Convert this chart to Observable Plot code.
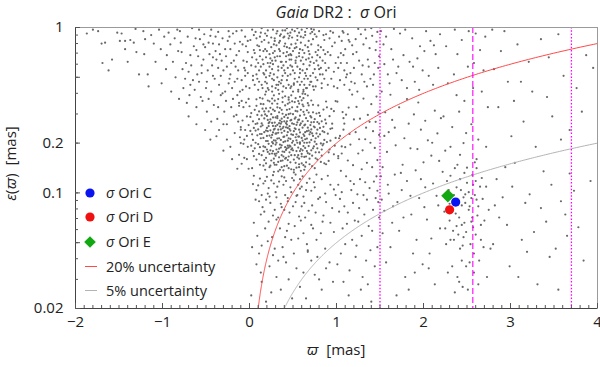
<!DOCTYPE html>
<html><head><meta charset="utf-8">
<script src="https://cdn.jsdelivr.net/npm/d3@7"></script>
<script src="https://cdn.jsdelivr.net/npm/@observablehq/plot@0.6"></script>
<style>
html,body{margin:0;padding:0;background:#fff;}
#chart{width:600px;height:367px;position:relative;}
</style></head><body><div id="chart"></div>
<script>
// ---------- DATA: [parallax ϖ (mas), parallax error ε(ϖ) (mas)] ----------
const starsFarWest = [[-1.87,0.92],[-1.80,0.97],[-1.74,0.95],[-1.70,0.80],[-1.66,0.81],[-1.69,0.61],[-1.62,0.55],[-1.58,0.64],[-1.52,0.93],[-1.47,0.92],[-1.49,0.83],[-1.43,0.83],[-1.43,0.74],[-1.40,0.62],[-1.37,0.84],[-1.33,0.81],[-1.31,0.98],[-1.30,0.71],[-1.27,0.52],[-1.22,0.95],[-1.20,0.85],[-1.21,0.69],[-1.17,0.52],[-1.16,0.44],[-1.13,0.90],[-1.10,0.80],[-1.08,0.62],[-1.04,0.97],[-1.02,0.74],[-1.01,0.46],[-0.98,0.88],[-0.96,0.56],[-0.95,0.68],[-0.93,0.93],[-0.91,0.79],[-0.90,0.41],[-0.88,0.62],[-0.86,0.86],[-0.85,0.50],[-0.83,0.97],[-0.82,0.72],[-0.81,0.37]];
const starsWest = [[-0.42,0.66],[-0.17,0.47],[-0.71,0.88],[-0.29,0.31],[-0.55,0.53],[-0.08,0.79],[-0.36,0.94],[-0.63,0.42],[-0.21,0.61],[-0.47,0.37],
[-0.12,0.35],[-0.78,0.71],[-0.33,0.51],[-0.58,0.97],[-0.04,0.44],[-0.25,0.83],[-0.67,0.59],[-0.44,0.27],[-0.15,0.68],[-0.51,0.76],
[-0.28,0.41],[-0.74,0.49],[-0.06,0.57],[-0.39,0.72],[-0.61,0.33],[-0.19,0.92],[-0.48,0.55],[-0.10,0.25],[-0.32,0.63],[-0.57,0.85],
[-0.23,0.49],[-0.69,0.39],[-0.02,0.71],[-0.45,0.89],[-0.14,0.39],[-0.35,0.45],[-0.80,0.95],[-0.53,0.64],[-0.26,0.58],[-0.09,0.96],
[-0.41,0.34],[-0.64,0.77],[-0.18,0.29],[-0.31,0.86],[-0.73,0.61],[-0.05,0.51],[-0.49,0.47],[-0.22,0.74],[-0.60,0.52],[-0.37,0.28],
[-0.13,0.55],[-0.52,0.91],[-0.27,0.36],[-0.76,0.43],[-0.07,0.33],[-0.43,0.59],[-0.20,0.43],[-0.66,0.99],[-0.34,0.69],[-0.11,0.82],
[-0.56,0.38],[-0.03,0.62],[-0.30,0.26],[-0.47,0.81],[-0.16,0.58],[-0.70,0.54],[-0.24,0.95],[-0.40,0.49],[-0.08,0.42],[-0.59,0.67],
[-0.19,0.37],[-0.36,0.57],[-0.62,0.86],[-0.01,0.37],[-0.28,0.74],[-0.50,0.43],[-0.12,0.72],[-0.77,0.56],[-0.44,0.97],[-0.22,0.52],
[-0.05,0.88],[-0.33,0.39],[-0.58,0.47],[-0.15,0.95],[-0.42,0.51],[-0.68,0.68],[-0.26,0.26],[-0.09,0.48],[-0.53,0.79],[-0.38,0.64],
[-0.21,0.33],[-0.46,0.69],[-0.72,0.35],[-0.03,0.29],[-0.30,0.55],[-0.17,0.80],[-0.55,0.59],[-0.11,0.41],[-0.39,0.88],[-0.65,0.48],
[-0.07,0.63],[-0.24,0.46],[-0.49,0.31],[-0.14,0.49],[-0.35,0.79],[-0.79,0.81],[-0.02,0.53],[-0.27,0.67],[-0.61,0.73],[-0.44,0.41],
[-0.18,0.63],[-0.09,0.36],[-0.31,0.40],[-0.54,0.36],[-0.23,0.88],[-0.04,0.77],[-0.42,0.80],[-0.13,0.27],[-0.68,0.45],[-0.36,0.33],
[-0.06,0.21],[-0.22,0.19],[-0.38,0.22],[-0.12,0.17],[-0.51,0.24],[-0.03,0.16],[-0.17,0.23],[-0.30,0.18],[-0.09,0.15],[-0.45,0.21],
[-0.26,0.21],[-0.02,0.19],[-0.14,0.14],[-0.61,0.26],[-0.05,0.24],[-0.20,0.16],[-0.35,0.24],[-0.10,0.20],[-0.70,0.29],[-0.01,0.14]];
const starsCoreUpper = [[0.37,0.62],[0.12,0.88],[0.71,0.47],[0.48,0.79],[0.24,0.53],[0.93,0.68],[0.56,0.42],[0.05,0.73],[0.64,0.94],[0.31,0.45],
[0.82,0.57],[0.19,0.66],[0.44,0.51],[0.68,0.83],[0.27,0.97],[0.53,0.61],[0.09,0.49],[0.76,0.71],[0.39,0.87],[0.61,0.55],
[0.15,0.43],[0.47,0.69],[0.88,0.91],[0.33,0.58],[0.58,0.74],[0.22,0.81],[0.73,0.44],[0.41,0.96],[0.02,0.59],[0.65,0.64],
[0.29,0.72],[0.51,0.46],[0.79,0.78],[0.17,0.52],[0.45,0.86],[0.62,0.41],[0.35,0.67],[0.97,0.54],[0.26,0.44],[0.70,0.92],
[0.55,0.58],[0.11,0.77],[0.42,0.43],[0.84,0.63],[0.36,0.91],[0.67,0.49],[0.21,0.61],[0.49,0.97],[0.75,0.56],[0.07,0.94],
[0.59,0.81],[0.32,0.50],[0.90,0.45],[0.46,0.64],[0.14,0.99],[0.63,0.70],[0.38,0.41],[0.77,0.88],[0.25,0.76],[0.52,0.53],
[0.04,0.51],[0.69,0.59],[0.43,0.76],[0.86,0.84],[0.18,0.47],[0.57,0.93],[0.34,0.81],[0.72,0.66],[0.48,0.44],[0.23,0.69],
[0.95,0.77],[0.60,0.47],[0.30,0.63],[0.81,0.52],[0.13,0.58],[0.50,0.72],[0.66,0.99],[0.40,0.55],[0.20,0.89],[0.74,0.42],
[0.54,0.66],[0.28,0.48],[0.87,0.69],[0.44,0.92],[0.08,0.64],[0.64,0.53],[0.35,0.83],[0.79,0.59],[0.16,0.72],[0.58,0.45],
[0.99,0.61],[0.26,0.56],[0.47,0.52],[0.71,0.79],[0.39,0.70],[0.10,0.42],[0.62,0.87],[0.31,0.92],[0.83,0.46],[0.53,0.80],
[0.19,0.55],[0.68,0.72],[0.42,0.62],[0.01,0.84],[0.57,0.50],[0.36,0.46],[0.92,0.86],[0.24,0.65],[0.76,0.50],[0.49,0.58],
[0.65,0.43],[0.14,0.82],[0.33,0.42],[0.80,0.95],[0.46,0.75],[0.06,0.45],[0.70,0.62],[0.29,0.86],[0.55,0.89],[0.38,0.51],
[0.85,0.73],[0.21,0.43],[0.61,0.66],[0.43,0.48],[0.74,0.97],[0.27,0.60],[0.50,0.41],[0.12,0.67],[0.66,0.56],[0.34,0.74],
[0.57,0.70],[0.91,0.57],[0.18,0.92],[0.40,0.88],[0.63,0.49],[0.23,0.51],[0.78,0.68],[0.47,0.43],[0.03,0.97],[0.69,0.45],
[0.32,0.67],[0.52,0.95],[0.86,0.49],[0.16,0.60],[0.59,0.63],[0.41,0.80],[0.73,0.53],[0.26,0.41],[0.96,0.93],[0.45,0.68],
[0.11,0.55],[0.64,0.78],[0.37,0.57],[0.82,0.76],[0.28,0.79],[0.55,0.47],[0.08,0.86],[0.72,0.94],[0.48,0.64],[0.20,0.46],
[0.44,0.57],[0.18,0.74],[0.63,0.45],[0.32,0.95],[0.81,0.66],[0.07,0.58],[0.55,0.84],[0.26,0.49],[0.71,0.98],[0.39,0.44],
[0.94,0.49],[0.13,0.93],[0.48,0.68],[0.67,0.76],[0.22,0.42],[0.58,0.56],[0.35,0.72],[0.85,0.90],[0.03,0.66],[0.51,0.45],
[0.29,0.83],[0.76,0.44],[0.43,0.99],[0.16,0.53],[0.62,0.60],[0.88,0.55],[0.37,0.48],[0.09,0.78],[0.54,0.76],[0.24,0.61],
[0.70,0.51],[0.46,0.89],[0.19,0.41],[0.60,0.97],[0.33,0.55],[0.79,0.73],[0.05,0.90],[0.42,0.67],[0.66,0.43],[0.27,0.70],
[1.05,0.70],[1.12,0.52],[1.08,0.93],[0.52,0.49],[0.15,0.64],[0.74,0.61],[0.30,0.43],[0.57,0.67],[0.90,0.71],[0.41,0.53],
[0.21,0.96],[0.64,0.90],[0.36,0.62],[0.83,0.43],[0.11,0.47],[0.47,0.59],[0.69,0.69],[0.25,0.87],[0.56,0.41],[0.98,0.81],
[-0.05,0.55],[-0.02,0.83],[0.00,0.43],[0.34,0.47],[0.61,0.73],[0.17,0.84],[0.49,0.87],[0.78,0.48],[0.40,0.77],[0.06,0.70],
[0.28,0.52],[0.73,0.85],[0.53,0.63],[0.14,0.45],[0.87,0.61],[0.38,0.96],[0.65,0.51],[0.23,0.58],[0.45,0.45],[0.59,0.88],
[0.10,0.61],[0.80,0.56],[0.31,0.78],[0.50,0.55],[0.68,0.65],[0.20,0.72],[0.93,0.95],[0.43,0.71],[0.04,0.48],[0.75,0.91],
[0.58,0.53],[0.35,0.89],[0.12,0.73],[0.70,0.47],[0.47,0.93],[0.26,0.63],[0.84,0.52],[0.62,0.42],[0.19,0.50],[0.39,0.59],
[1.02,0.57],[1.15,0.82],[1.09,0.45],[0.97,0.44],[0.52,0.75],[0.29,0.66],[0.77,0.63],[0.08,0.52],[0.55,0.99],[0.33,0.45]];
const starsCoreMiddle = [[0.43,0.271],[0.17,0.158],[0.62,0.334],[0.35,0.196],[0.81,0.247],[0.28,0.389],[0.54,0.142],[0.09,0.223],[0.71,0.181],[0.47,0.302],
[0.22,0.264],[0.66,0.213],[0.39,0.137],[0.58,0.257],[0.13,0.345],[0.76,0.162],[0.31,0.229],[0.49,0.186],[0.92,0.291],[0.26,0.173],
[0.61,0.398],[0.44,0.233],[0.05,0.167],[0.37,0.318],[0.69,0.149],[0.19,0.206],[0.52,0.281],[0.84,0.194],[0.33,0.154],[0.57,0.219],
[0.24,0.327],[0.74,0.268],[0.46,0.176],[0.11,0.279],[0.63,0.165],[0.29,0.244],[0.88,0.357],[0.41,0.205],[0.55,0.311],[0.16,0.191],
[0.68,0.238],[0.36,0.262],[0.02,0.304],[0.51,0.159],[0.79,0.219],[0.23,0.143],[0.45,0.366],[0.64,0.187],[0.32,0.291],[0.97,0.171],
[0.14,0.227],[0.59,0.136],[0.42,0.249],[0.73,0.307],[0.27,0.199],[0.50,0.224],[0.86,0.151],[0.38,0.178],[0.07,0.261],[0.65,0.283],
[0.21,0.362],[0.48,0.139],[0.77,0.197],[0.34,0.214],[0.56,0.188],[0.12,0.148],[0.67,0.349],[0.40,0.288],[0.25,0.216],[0.83,0.271],
[0.53,0.243],[0.30,0.168],[0.70,0.257],[0.18,0.298],[0.47,0.212],[0.60,0.172],[0.04,0.209],[0.38,0.377],[0.90,0.228],[0.27,0.254],
[0.62,0.147],[0.44,0.193],[0.15,0.372],[0.55,0.267],[0.33,0.241],[0.75,0.141],[0.20,0.183],[0.49,0.329],[0.66,0.236],[0.36,0.156],
[0.10,0.197],[0.58,0.202],[0.29,0.313],[0.80,0.176],[0.42,0.163],[0.24,0.239],[0.69,0.202],[0.52,0.354],[0.37,0.231],[0.95,0.262],
[0.46,0.253],[0.19,0.163],[0.63,0.297],[0.31,0.183],[0.57,0.149],[0.85,0.319],[0.40,0.219],[0.13,0.252],[0.72,0.229],[0.26,0.347],
[0.50,0.181],[0.35,0.274],[0.78,0.159],[0.22,0.198],[0.61,0.248],[0.43,0.146],[0.08,0.336],[0.54,0.226],[0.30,0.207],[0.67,0.174],
[0.17,0.282],[0.45,0.299],[0.89,0.203],[0.28,0.134],[0.59,0.318],[0.39,0.251],[0.71,0.267],[0.23,0.222],[0.48,0.169],[0.64,0.211],
[0.34,0.185],[0.03,0.141],[0.56,0.276],[0.81,0.292],[0.41,0.338],[0.20,0.247],[0.65,0.153],[0.52,0.195],[0.32,0.258],[0.76,0.214],
[0.14,0.169],[0.47,0.238],[0.60,0.363],[0.37,0.143],[0.27,0.286],[0.73,0.186],[0.44,0.207],[0.93,0.244],[0.21,0.177],[0.55,0.164],
[0.68,0.306],[0.30,0.228],[0.49,0.263],[0.11,0.311],[0.62,0.192],[0.38,0.301],[0.83,0.168],[0.25,0.157],[0.57,0.241],[0.42,0.182],
[0.16,0.215],[0.70,0.233],[0.33,0.369],[0.53,0.152],[0.87,0.277],[0.46,0.321],[0.29,0.172],[0.64,0.259],[0.06,0.186],[0.40,0.237],
[0.58,0.293],[0.23,0.268],[0.75,0.249],[0.36,0.209],[0.51,0.138],[0.19,0.324],[0.66,0.179],[0.44,0.284],[0.98,0.193],[0.31,0.148],
[0.54,0.208],[0.27,0.232],[0.79,0.338],[0.41,0.161],[0.63,0.221],[0.12,0.189],[0.48,0.276],[0.35,0.252],[0.72,0.145],[0.22,0.311],
[0.60,0.166],[0.45,0.188],[0.18,0.138],[0.67,0.272],[0.30,0.286],[0.84,0.236],[0.52,0.246],[0.39,0.166],[0.09,0.263],[0.57,0.347],
[0.26,0.203],[0.69,0.161],[0.43,0.223],[0.15,0.256],[0.62,0.226],[0.35,0.138],[0.77,0.302],[0.50,0.299],[0.24,0.181],[0.91,0.156],
[0.47,0.153],[0.32,0.329],[0.59,0.184],[0.13,0.214],[0.71,0.209],[0.40,0.271],[0.28,0.241],[0.55,0.331],[0.82,0.199],[0.37,0.194],
[0.20,0.292],[0.64,0.144],[0.44,0.346],[0.74,0.252],[0.33,0.177],[0.58,0.232],[0.07,0.238],[0.49,0.201],[0.26,0.265],[0.68,0.192],
[0.39,0.218],[0.53,0.286],[0.17,0.233],[0.86,0.209],[0.30,0.196],[0.61,0.271],[0.45,0.166],[0.23,0.358],[0.76,0.176],[0.34,0.307],
[0.56,0.169],[0.11,0.172],[0.42,0.296],[0.66,0.316],[0.28,0.161],[0.51,0.261],[0.94,0.322],[0.36,0.242],[0.19,0.151],[0.63,0.201],
[0.48,0.226],[0.73,0.221],[0.25,0.299],[0.40,0.145],[0.59,0.263],[0.14,0.294],[0.80,0.262],[0.32,0.213],[0.54,0.179],[0.21,0.236],
[0.67,0.248],[0.43,0.259],[0.01,0.237],[0.37,0.281],[0.62,0.309],[0.29,0.148],[0.50,0.206],[0.78,0.186],[0.16,0.344],[0.46,0.193],
[0.34,0.264],[0.57,0.161],[0.22,0.253],[0.70,0.291],[0.41,0.189],[0.88,0.149],[0.27,0.179],[0.60,0.215],[0.45,0.378],[0.12,0.227],
[0.53,0.313],[0.31,0.201],[0.65,0.166],[0.18,0.189],[0.47,0.274],[0.75,0.279],[0.38,0.157],[0.24,0.278],[0.58,0.198],[0.99,0.215],
[0.43,0.186],[0.69,0.226],[0.20,0.221],[0.52,0.169],[0.35,0.326],[0.63,0.256],[0.08,0.159],[0.46,0.243],[0.81,0.226],[0.29,0.266],
[0.56,0.219],[0.39,0.203],[0.14,0.263],[0.72,0.168],[0.26,0.224],[0.49,0.358],[0.61,0.181],[0.33,0.231],[0.85,0.251],[0.44,0.158],
[0.23,0.172],[0.66,0.201],[0.37,0.269],[0.54,0.258],[0.17,0.311],[0.78,0.241],[0.30,0.253],[0.48,0.183],[0.62,0.374],[0.40,0.177],
[0.21,0.206],[0.57,0.277],[0.34,0.164],[0.71,0.242],[0.45,0.214],[0.09,0.296],[0.60,0.151],[0.27,0.319],[0.51,0.236],[0.92,0.183],
[0.38,0.246],[0.64,0.233],[0.16,0.146],[0.47,0.191],[0.75,0.204],[0.32,0.283],[0.55,0.201],[0.25,0.192],[0.68,0.338],[0.42,0.264],
[0.19,0.238],[0.53,0.217],[0.36,0.188],[0.83,0.183],[0.28,0.208],[0.61,0.207],[0.44,0.247],[0.04,0.271],[0.58,0.179],[0.31,0.173],
[0.86,0.233],[0.97,0.312],[0.78,0.268],[1.04,0.221],[0.91,0.176],[0.73,0.341],[0.95,0.246],[0.82,0.154],[1.08,0.283],[0.77,0.229],
[0.89,0.329],[0.74,0.191],[1.02,0.162],[0.93,0.207],[0.80,0.305],[0.99,0.359],[0.85,0.198],[0.71,0.286],[1.06,0.191],[0.88,0.263],
[-0.08,0.274],[0.02,0.193],[-0.12,0.336],[0.05,0.247],[-0.03,0.221],[0.08,0.368],[-0.06,0.163],[0.01,0.288],[-0.10,0.241],[0.04,0.179],
[-0.15,0.296],[0.06,0.318],[-0.04,0.352],[0.03,0.226],[-0.07,0.198],[0.10,0.242],[-0.01,0.257],[0.07,0.201],[-0.11,0.217],[0.00,0.334],
[0.43,0.318],[0.21,0.276],[0.56,0.359],[0.32,0.346],[0.67,0.388],[0.15,0.323],[0.48,0.389],[0.26,0.372],[0.61,0.342],[0.38,0.354],
[0.53,0.374],[0.18,0.393],[0.71,0.362],[0.41,0.384],[0.29,0.361],[0.64,0.396],[0.12,0.376],[0.46,0.352],[0.34,0.397],[0.58,0.381],
[0.24,0.146],[0.51,0.133],[0.37,0.169],[0.63,0.138],[0.16,0.179],[0.45,0.141],[0.69,0.172],[0.28,0.152],[0.57,0.143],[0.33,0.135]];
const starsCoreLower = [[0.34,0.117],[0.08,0.104],[0.61,0.126],[0.19,0.091],[0.47,0.108],[0.83,0.121],[0.27,0.128],[0.55,0.097],[0.12,0.122],[0.71,0.103],
[0.40,0.124],[0.93,0.112],[0.22,0.107],[0.66,0.115],[0.05,0.127],[0.51,0.119],[0.30,0.101],[0.77,0.129],[0.16,0.114],[0.58,0.106],
[0.44,0.093],[0.87,0.099],[0.25,0.119],[0.63,0.087],[0.37,0.126],[0.10,0.111],[0.74,0.116],[0.49,0.123],[0.20,0.125],[0.97,0.105],
[0.56,0.112],[0.32,0.109],[0.69,0.122],[0.14,0.097],[0.42,0.118],[0.81,0.094],[0.28,0.114],[0.60,0.109],[0.04,0.113],[0.53,0.129],
[0.36,0.086],[0.75,0.108],[0.18,0.118],[0.48,0.101],[0.90,0.127],[0.23,0.095],[0.65,0.104],[0.39,0.112],[0.11,0.089],[0.58,0.121],
[0.29,0.079],[0.72,0.084],[0.46,0.076],[0.15,0.082],[0.85,0.073],[0.53,0.088],[0.33,0.071],[0.62,0.095],[0.07,0.091],[0.41,0.097],
[0.95,0.081],[0.24,0.087],[0.68,0.078],[0.50,0.083],[0.13,0.074],[0.79,0.092],[0.37,0.082],[0.57,0.072],[0.21,0.099],[0.44,0.089],
[0.88,0.088],[0.31,0.094],[0.64,0.071],[0.17,0.077],[0.54,0.096],[0.76,0.076],[0.40,0.079],[0.27,0.073],[0.99,0.097],[0.60,0.083],
[0.35,0.061],[0.09,0.055],[0.71,0.064],[0.48,0.052],[0.22,0.067],[0.82,0.057],[0.59,0.068],[0.14,0.048],[0.43,0.059],[0.93,0.066],
[0.26,0.054],[0.66,0.049],[0.52,0.063],[0.18,0.061],[0.77,0.052],[0.38,0.047],[0.05,0.066],[0.62,0.057],[0.31,0.069],[0.87,0.046],
[0.45,0.065],[0.73,0.061],[0.21,0.051],[0.56,0.053],[0.97,0.058],[0.11,0.043],[0.67,0.045],[0.41,0.054],[0.84,0.067],[0.29,0.046],
[0.02,0.024],[0.23,0.036],[0.58,0.027],[0.39,0.041],[0.75,0.032],[0.14,0.029],[0.92,0.038],[0.49,0.023],[0.31,0.031],[0.67,0.044],
[0.08,0.037],[0.54,0.035],[0.83,0.026],[0.27,0.042],[0.45,0.030],[0.71,0.039],[0.19,0.022],[0.62,0.033],[0.36,0.026],[0.96,0.029],
[0.13,0.033],[0.78,0.041],[0.42,0.038],[0.25,0.025],[0.88,0.035],[0.51,0.043],[0.03,0.047],[0.65,0.023],[0.33,0.039],[0.80,0.030]];
const starsInner = [[1.23,0.71],[1.04,0.48],[1.41,0.89],[1.12,0.61],[1.35,0.44],[1.07,0.95],[1.48,0.57],[1.18,0.78],[1.29,0.52],[1.02,0.66],
[1.45,0.73],[1.15,0.42],[1.33,0.97],[1.09,0.55],[1.26,0.63],[1.39,0.49],[1.06,0.83],[1.21,0.46],[1.44,0.61],[1.13,0.91],
[1.31,0.79],[1.01,0.43],[1.37,0.58],[1.19,0.69],[1.47,0.94],[1.10,0.74],[1.24,0.41],[1.42,0.45],[1.16,0.53],[1.34,0.86],
[1.05,0.61],[1.28,0.91],[1.49,0.67],[1.20,0.57],[1.38,0.75],[1.08,0.68],[1.32,0.47],[1.14,0.84],[1.43,0.52],[1.25,0.98],
[1.03,0.88],[1.36,0.64],[1.17,0.47],[1.46,0.82],[1.22,0.85],[1.11,0.50],[1.40,0.99],[1.30,0.59],
[1.27,0.281],[1.06,0.173],[1.42,0.236],[1.14,0.328],[1.35,0.152],[1.03,0.214],[1.48,0.307],[1.19,0.147],[1.31,0.372],[1.09,0.262],
[1.44,0.187],[1.22,0.233],[1.01,0.356],[1.38,0.269],[1.16,0.196],[1.29,0.139],[1.47,0.158],[1.11,0.297],[1.25,0.173],[1.40,0.344],
[1.05,0.136],[1.33,0.211],[1.18,0.393],[1.49,0.224],[1.08,0.241],[1.36,0.296],[1.23,0.331],[1.02,0.167],[1.45,0.269],[1.13,0.157],
[1.30,0.181],[1.41,0.143],[1.20,0.278],[1.07,0.308],[1.34,0.248],[1.15,0.227],[1.46,0.382],[1.26,0.211],[1.10,0.189],[1.39,0.201],
[1.24,0.098],[1.07,0.061],[1.43,0.117],[1.15,0.034],[1.32,0.074],[1.02,0.112],[1.47,0.047],[1.19,0.087],[1.36,0.028],[1.11,0.126],
[1.29,0.055],[1.45,0.093],[1.05,0.043],[1.38,0.107],[1.21,0.068],[1.14,0.024],[1.49,0.071],[1.27,0.121],[1.09,0.083],[1.34,0.039],
[1.17,0.104],[1.41,0.059],[1.03,0.077],[1.30,0.031],[1.23,0.048],[1.46,0.126],[1.12,0.065],[1.35,0.091],[1.06,0.101],[1.40,0.022],
[1.26,0.081],[1.18,0.052],[1.44,0.036],[1.08,0.029],[1.33,0.116],[1.20,0.113],[1.48,0.088],[1.13,0.076],[1.37,0.063],[1.01,0.037],
[1.28,0.026],[1.42,0.079],[1.16,0.118],[1.04,0.092],[1.31,0.097],[1.22,0.041],[1.47,0.103],[1.10,0.049],[1.39,0.045],[1.25,0.067]];
const starsMiddle = [[1.84,0.62],[1.57,0.88],[2.11,0.45],[1.69,0.53],[1.96,0.77],[1.52,0.41],[2.03,0.95],[1.77,0.68],[2.17,0.57],[1.63,0.74],
[1.90,0.47],[1.55,0.60],[2.08,0.83],[1.73,0.92],[1.99,0.55],[1.61,0.46],[2.14,0.69],[1.81,0.43],[1.66,0.98],[1.93,0.65],
[2.06,0.51],[1.54,0.79],[1.87,0.86],[1.71,0.58],[2.19,0.91],[1.59,0.52],[1.95,0.42],[1.79,0.97],[2.01,0.72],[1.65,0.64],
[1.88,0.58],[2.12,0.78],[1.75,0.48],[1.51,0.95],
[1.78,0.214],[1.56,0.307],[2.09,0.168],[1.67,0.248],[1.94,0.352],[1.53,0.143],[2.02,0.273],[1.85,0.186],[2.16,0.229],[1.62,0.392],
[1.91,0.137],[1.72,0.329],[2.05,0.208],[1.58,0.177],[1.83,0.262],[2.18,0.156],[1.68,0.194],[1.97,0.241],[1.76,0.148],[2.13,0.314],
[1.60,0.233],[1.89,0.298],[2.00,0.153],[1.64,0.276],[1.81,0.369],[2.10,0.201],[1.55,0.221],[1.93,0.184],[1.74,0.132],[2.20,0.283],
[1.86,0.074],[1.59,0.112],[2.07,0.043],[1.70,0.088],[1.97,0.121],[1.53,0.057],[2.15,0.096],[1.79,0.031],[1.64,0.066],[2.01,0.082],
[1.92,0.052],[1.57,0.038],[2.11,0.114],[1.75,0.104],[1.83,0.026],[2.19,0.061],[1.67,0.129],[1.99,0.037],[1.52,0.091],[2.04,0.069],
[1.81,0.118],[1.62,0.047],[2.13,0.028],[1.72,0.059],[1.95,0.093],[1.55,0.078],[2.09,0.053],[1.88,0.043],[1.69,0.024],[2.17,0.084],
[1.77,0.071],[1.60,0.099],[2.02,0.108],[1.90,0.033],[1.65,0.083],[1.85,0.096],[2.06,0.035],[1.51,0.126]];
const starsCluster = [[2.41,0.071],[2.27,0.118],[2.58,0.043],[2.35,0.097],[2.66,0.064],[2.47,0.132],[2.31,0.052],[2.53,0.083],[2.72,0.109],[2.39,0.031],
[2.61,0.091],[2.24,0.077],[2.49,0.058],[2.36,0.141],[2.57,0.112],[2.44,0.039],[2.69,0.047],[2.30,0.086],[2.52,0.101],[2.63,0.028],
[2.38,0.063],[2.75,0.079],[2.46,0.094],[2.26,0.049],[2.55,0.067],[2.42,0.121],[2.60,0.056],[2.33,0.036],[2.50,0.142],[2.67,0.123],
[2.45,0.048],[2.29,0.104],[2.59,0.097],[2.37,0.075],[2.64,0.039],[2.51,0.026],[2.22,0.134],[2.48,0.087],[2.70,0.068],[2.40,0.056],
[2.56,0.128],[2.34,0.059],[2.62,0.073],[2.43,0.104],[2.77,0.046],[2.28,0.033],[2.54,0.049],[2.47,0.066],[2.65,0.109],[2.36,0.025],
[2.52,0.079],[2.39,0.148],[2.58,0.033],[2.44,0.084],[2.31,0.127],[2.68,0.092],[2.49,0.036],[2.25,0.061],[2.61,0.141],[2.42,0.046],
[2.55,0.093],[2.38,0.108],[2.73,0.031],[2.46,0.054],[2.33,0.079],[2.57,0.062],[2.50,0.115],[2.63,0.083],[2.41,0.029],[2.35,0.052],
[2.59,0.153],[2.48,0.098],[2.66,0.052],[2.44,0.064],[2.53,0.038],[2.37,0.091],[2.60,0.118],[2.30,0.068],[2.45,0.027],[2.56,0.071],
[2.47,0.36],[2.26,0.77],[2.63,0.21],[2.35,0.52],[2.71,0.88],[2.42,0.17],[2.58,0.61],[2.23,0.29],[2.52,0.95],[2.67,0.41],
[2.31,0.19],[2.55,0.26],[2.39,0.69],[2.74,0.33],[2.44,0.84],[2.28,0.46],[2.61,0.16],[2.49,0.23],[2.36,0.97],[2.69,0.55],
[2.25,0.18],[2.57,0.43],[2.41,0.31],[2.65,0.73],[2.33,0.25],[2.51,0.58],[2.72,0.19],[2.38,0.39],[2.60,0.92],[2.46,0.20]];
const starsEast = [[3.21,0.62],[2.86,0.33],[3.55,0.91],[2.97,0.47],[3.68,0.24],[3.08,0.79],[2.81,0.56],[3.42,0.38],[3.87,0.68],[3.15,0.27],
[2.93,0.95],[3.61,0.51],[3.29,0.19],[3.76,0.43],[3.04,0.36],[2.89,0.72],[3.48,0.29],[3.35,0.85],[3.95,0.57],[3.12,0.47],
[3.58,0.21],[2.79,0.97],[3.25,0.41],[3.82,0.31],[3.01,0.22],[3.44,0.66],
[3.17,0.087],[2.84,0.121],[3.52,0.046],[2.96,0.064],[3.73,0.103],[3.09,0.031],[3.38,0.135],[2.80,0.049],[3.63,0.074],[3.27,0.058],
[2.91,0.094],[3.47,0.112],[3.84,0.039],[3.05,0.152],[3.31,0.028],[2.87,0.071],[3.58,0.089],[3.13,0.052],[3.92,0.118],[3.22,0.098],
[2.99,0.036],[3.41,0.067],[3.68,0.131],[3.19,0.044],[2.82,0.084],[3.55,0.026],[3.35,0.081],[3.78,0.062],[3.02,0.109],[3.45,0.041],
[2.94,0.143],[3.65,0.055]];

// σ Ori components
const sigmaOriNames = ["σ Ori C", "σ Ori D", "σ Ori E"];
const sigmaOriParallax = [2.37, 2.30, 2.28];
const sigmaOriError = [0.088, 0.079, 0.096];

// reference parallax lines and uncertainty curves
const dottedParallaxes = [1.5, 3.70];
const dashedParallaxes = [2.567];
const uncertaintyFractions = [0.20, 0.05];
const uncertaintyLabels = ["20% uncertainty", "5% uncertainty"];

// axes
const xTicks = [-2, -1, 0, 1, 2, 3, 4];
const yTicks = [0.02, 0.05, 0.1, 0.2, 0.5, 1];
const yTickLabels = ["0.02", "0.05", "0.1", "0.2", "0.5", "1"];
const xDomain = [-2, 4];
const yDomain = [0.02, 1];

// ---------- BUILD ----------
const FONT = "'Open Sans','DejaVu Sans',sans-serif";
const allStars = [...starsFarWest, ...starsWest, ...starsCoreUpper, ...starsCoreMiddle, ...starsCoreLower, ...starsInner, ...starsMiddle, ...starsCluster, ...starsEast];
const sigmaOri = sigmaOriNames.map((name, i) => ({name, p: sigmaOriParallax[i], e: sigmaOriError[i]}));
function uncertaintyCurve(f) {
  const p0 = yDomain[0] / f, p1 = xDomain[1];
  return d3.range(0, 301).map(i => { const p = p0 * Math.pow(p1 / p0, i / 300); return {p, e: f * p}; });
}
const curveColors = ["#ff4a4a", "#b4b4b4"];
const markerColors = ["#0a14f0", "#f01010", "#12a812"];
const xMinor = d3.range(-20, 41).map(i => i / 10);
const yMinor = d3.range(2, 10).map(i => i / 100).concat(d3.range(1, 11).map(i => i / 10));
const fmtX = d => d < 0 ? "\u2212" + Math.abs(d) : String(d);

const chart = Plot.plot({
  width: 600, height: 367,
  marginLeft: 75, marginRight: 3, marginTop: 27, marginBottom: 59,
  style: {fontFamily: FONT, fontSize: "15px", color: "#222", background: "white", overflow: "visible"},
  x: {domain: xDomain},
  y: {type: "log", domain: yDomain},
  marks: [
    Plot.dot(allStars, {x: d => d[0], y: d => d[1], r: 1.1, fill: "#686868", clip: true}),
    Plot.line(uncertaintyCurve(uncertaintyFractions[1]), {x: "p", y: "e", stroke: curveColors[1], strokeWidth: 1, clip: true}),
    Plot.line(uncertaintyCurve(uncertaintyFractions[0]), {x: "p", y: "e", stroke: curveColors[0], strokeWidth: 1, clip: true}),
    Plot.ruleX(dottedParallaxes, {stroke: "#ff00ff", strokeWidth: 1.3, strokeDasharray: "1.5,1.8"}),
    Plot.ruleX(dashedParallaxes, {stroke: "#ff00ff", strokeWidth: 1.1, strokeDasharray: "6,3"}),
    Plot.dot([sigmaOri[2]], {x: "p", y: "e", symbol: "diamond2", r: 6, fill: markerColors[2]}),
    Plot.dot([sigmaOri[0]], {x: "p", y: "e", r: 4.6, fill: markerColors[0]}),
    Plot.dot([sigmaOri[1]], {x: "p", y: "e", r: 4.6, fill: markerColors[1]}),
    Plot.frame({stroke: "#9a9a9a"}),
    Plot.ruleX([xDomain[0]], {stroke: "#444"}),
    Plot.ruleY([yDomain[0]], {stroke: "#444"}),
    Plot.axisX(xMinor, {tickSize: -3, tickFormat: () => "", label: null, stroke: "#555"}),
    Plot.axisX(xTicks, {tickSize: -5, tickFormat: () => "", label: null, stroke: "#555"}),
    Plot.axisX(xTicks, {tickSize: 0, tickPadding: 8, tickFormat: fmtX, label: null, fontSize: 15}),
    Plot.axisY(yMinor, {tickSize: -3, tickFormat: () => "", label: null, stroke: "#555"}),
    Plot.axisY(yTicks, {tickSize: -5, tickFormat: () => "", label: null, stroke: "#555"}),
    Plot.axisY(yTicks, {tickSize: 0, tickPadding: 12, tickFormat: d => yTickLabels[yTicks.indexOf(d)], label: null, fontSize: 15})
  ]
});
document.getElementById("chart").appendChild(chart);

// ---------- TEXT & LEGEND ----------
const svg = d3.select(chart);
const xr = chart.scale("x").range, yr = chart.scale("y").range;
const cx = (xr[0] + xr[1]) / 2, cy = (yr[0] + yr[1]) / 2;
const t = svg.append("text").attr("x", cx).attr("y", 18).attr("text-anchor", "middle")
  .attr("font-family", FONT).attr("font-size", 16).attr("fill", "#222");
t.append("tspan").attr("font-style", "italic").text("Gaia");
t.append("tspan").text(" DR2 :\u00a0\u00a0");
t.append("tspan").attr("font-style", "italic").text("σ");
t.append("tspan").text(" Ori");

const xl = svg.append("text").attr("x", cx).attr("y", 355).attr("text-anchor", "middle")
  .attr("font-family", FONT).attr("font-size", 15).attr("fill", "#222");
xl.append("tspan").attr("font-style", "italic").text("ϖ");
xl.append("tspan").text("\u00a0\u00a0[mas]");

const yl = svg.append("text").attr("transform", `translate(16,${cy - 4}) rotate(-90)`).attr("text-anchor", "middle")
  .attr("font-family", FONT).attr("font-size", 15).attr("fill", "#222");
yl.append("tspan").attr("font-style", "italic").text("ε");
yl.append("tspan").text("(");
yl.append("tspan").attr("font-style", "italic").text("ϖ");
yl.append("tspan").text(")\u00a0\u00a0[mas]");

const lg = svg.append("g").attr("font-family", FONT).attr("font-size", 14.5).attr("fill", "#222").attr("text-anchor", "start");
const rowY = [193, 217, 242, 266.5, 290.5];
sigmaOriNames.forEach((name, i) => {
  const y = rowY[i];
  if (i < 2) lg.append("circle").attr("cx", 90).attr("cy", y).attr("r", 4.6).attr("fill", markerColors[i]);
  else lg.append("path").attr("d", `M90,${y - 5.8}L95.8,${y}L90,${y + 5.8}L84.2,${y}Z`).attr("fill", markerColors[i]);
  const tx = lg.append("text").attr("x", 106).attr("y", y).attr("dy", "0.36em");
  const parts = name.split(" ");
  tx.append("tspan").attr("font-style", "italic").text(parts[0]);
  tx.append("tspan").text(" " + parts.slice(1).join(" "));
});
uncertaintyLabels.forEach((label, i) => {
  const y = rowY[3 + i];
  lg.append("line").attr("x1", 85).attr("x2", 97).attr("y1", y).attr("y2", y).attr("stroke", curveColors[i]).attr("stroke-width", 1);
  lg.append("text").attr("x", 106).attr("y", y).attr("dy", "0.36em").text(label);
});
</script></body></html>
